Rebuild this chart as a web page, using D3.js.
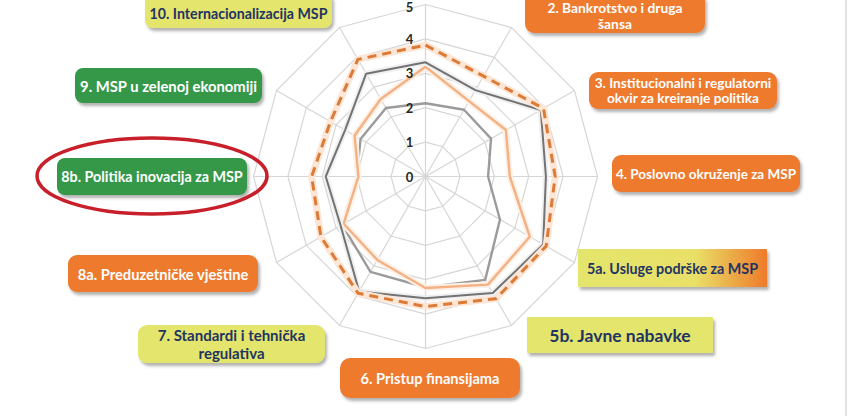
<!DOCTYPE html>
<html>
<head>
<meta charset="utf-8">
<script src="https://cdn.jsdelivr.net/npm/d3@7"></script>
<style>
  html, body { margin: 0; padding: 0; background: #fff; }
  svg { display: block; }
</style>
</head>
<body>
<svg id="chart" width="852" height="416"></svg>
<script>
// 12 SBA dimensions, clockwise from the top (the first one is cut off above the picture)
const categories = [
  "1. Preduzetničko učenje i žensko preduzetništvo",
  "2. Bankrotstvo i druga šansa",
  "3. Institucionalni i regulatorni okvir za kreiranje politika",
  "4. Poslovno okruženje za MSP",
  "5a. Usluge podrške za MSP",
  "5b. Javne nabavke",
  "6. Pristup finansijama",
  "7. Standardi i tehnička regulativa",
  "8a. Preduzetničke vještine",
  "8b. Politika inovacija za MSP",
  "9. MSP u zelenoj ekonomiji",
  "10. Internacionalizacija MSP"
];

const ticks = [0, 1, 2, 3, 4, 5];

// values
const seriesDashed = [3.82, 3.37, 3.96, 3.77, 4.05, 4.10, 3.78, 3.92, 3.51, 3.31, 3.19, 3.93];
const seriesDark   = [3.32, 2.90, 3.87, 3.50, 3.95, 3.91, 3.54, 3.86, 2.85, 2.90, 2.70, 3.45];
const seriesPeach  = [3.19, 2.53, 2.70, 2.45, 3.50, 3.63, 3.24, 2.80, 2.75, 1.95, 2.38, 2.60];
const seriesGrey   = [2.13, 2.24, 2.20, 1.82, 2.50, 3.47, 3.22, 3.20, 2.80, 2.00, 2.18, 2.30];

const svg = d3.select('#chart');
const cx = 425.5, cy = 176.5;

const r = d3.scaleLinear().domain([0, 5]).range([0, 172]);
const angle = d3.scaleLinear().domain([0, categories.length]).range([0, 2 * Math.PI]);

// shadow for the label boxes
const defs = svg.append('defs');
defs.append('filter')
    .attr('id', 'shadow')
    .attr('x', '-10%').attr('y', '-20%')
    .attr('width', '130%').attr('height', '160%')
  .append('feDropShadow')
    .attr('dx', 2).attr('dy', 3)
    .attr('stdDeviation', 1.6)
    .attr('flood-color', '#555')
    .attr('flood-opacity', 0.45);

const grad = defs.append('linearGradient').attr('id', 'yo');
grad.append('stop').attr('offset', '0%').attr('stop-color', '#e4e56c');
grad.append('stop').attr('offset', '62%').attr('stop-color', '#e9e068');
grad.append('stop').attr('offset', '100%').attr('stop-color', '#ee7a2a');

const g = svg.append('g').attr('transform', `translate(${cx},${cy})`);

// grid rings
const ring = d3.lineRadial()
  .angle((d, i) => angle(i))
  .radius(d => r(d))
  .curve(d3.curveLinearClosed);

g.append('g')
  .selectAll('path')
  .data(ticks.slice(1))
  .join('path')
    .attr('d', t => ring(categories.map(() => t)))
    .attr('fill', 'none')
    .attr('stroke', '#d6d6d6')
    .attr('stroke-width', 1.2);

// spokes
g.append('g')
  .selectAll('line')
  .data(categories)
  .join('line')
    .attr('x1', 0).attr('y1', 0)
    .attr('x2', (d, i) => r(5) * Math.sin(angle(i)))
    .attr('y2', (d, i) => -r(5) * Math.cos(angle(i)))
    .attr('stroke', '#d6d6d6')
    .attr('stroke-width', 1.2);

// series
const radarLine = d3.lineRadial()
  .angle((d, i) => angle(i))
  .radius(d => r(d))
  .curve(d3.curveLinearClosed);

const series = [
  { values: seriesGrey,   color: '#9b9b9b', width: 2.4, dash: null,  halo: null },
  { values: seriesPeach,  color: '#f3b184', width: 2.4, dash: null,  halo: '#fdf0e6' },
  { values: seriesDark,   color: '#737373', width: 2,   dash: null,  halo: '#f0f0f0' },
  { values: seriesDashed, color: '#dc7a36', width: 3,   dash: '9,6', halo: '#fde6d5' }
];

series.forEach(s => {
  if (s.halo) {
    g.append('path')
      .attr('d', radarLine(s.values))
      .attr('fill', 'none')
      .attr('stroke', s.halo)
      .attr('stroke-width', s.width + 4)
      .attr('stroke-linejoin', 'round');
  }
  g.append('path')
    .attr('d', radarLine(s.values))
    .attr('fill', 'none')
    .attr('stroke', s.color)
    .attr('stroke-width', s.width)
    .attr('stroke-dasharray', s.dash)
    .attr('stroke-linejoin', 'round');
});

// tick labels
g.append('g')
  .selectAll('text')
  .data(ticks)
  .join('text')
    .attr('x', -16)
    .attr('y', t => Math.max(-r(t) + 5, -cy + 12))
    .attr('text-anchor', 'middle')
    .attr('font-family', 'Lato, "Open Sans", sans-serif')
    .attr('font-weight', 700)
    .attr('font-size', 13)
    .attr('fill', '#262626')
    .text(t => t);

// label boxes around the chart (category index, layout, colour)
const orange = '#ee7a2d', green = '#34984a', yellow = '#e4e56c';
const boxes = [
  { cat: 11, lines: ['10. Internacionalizacija MSP'], x: 145, y: -8, w: 187, h: 36, fill: yellow, ink: '#1f3463', rx: 8, fs: 14.2 },
  { cat: 1,  lines: ['2. Bankrotstvo i druga', 'šansa'], x: 525, y: -8, w: 180, h: 41, fill: orange, ink: '#fff', rx: 9, fs: 13.8 },
  { cat: 2,  lines: ['3.  Institucionalni i regulatorni', 'okvir za kreiranje politika'], x: 589, y: 72, w: 188, h: 37, fill: orange, ink: '#fff', rx: 9, fs: 13.6 },
  { cat: 3,  lines: ['4. Poslovno okruženje za MSP'], x: 612, y: 155, w: 188, h: 37, fill: orange, ink: '#fff', rx: 9, fs: 13.5 },
  { cat: 4,  lines: ['5a. Usluge podrške za MSP'], x: 578, y: 249, w: 189, h: 38, fill: 'url(#yo)', ink: '#1f3463', rx: 1, fs: 14.3 },
  { cat: 5,  lines: ['5b. Javne nabavke'], x: 527, y: 317, w: 186, h: 36, fill: yellow, ink: '#1f3463', rx: 1, fs: 17.5 },
  { cat: 6,  lines: ['6. Pristup finansijama'], x: 340, y: 358, w: 180, h: 40, fill: orange, ink: '#fff', rx: 10, fs: 14.6 },
  { cat: 7,  lines: ['7. Standardi i tehnička', 'regulativa'], x: 138, y: 325, w: 187, h: 38, fill: yellow, ink: '#1f3463', rx: 9, fs: 15 },
  { cat: 8,  lines: ['8a. Preduzetničke vještine'], x: 68, y: 255, w: 190, h: 37, fill: orange, ink: '#fff', rx: 9, fs: 14.7 },
  { cat: 9,  lines: ['8b. Politika inovacija za MSP'], x: 57, y: 158, w: 190, h: 37, fill: green, ink: '#fff', rx: 8, fs: 14.3 },
  { cat: 10, lines: ['9. MSP u zelenoj ekonomiji'], x: 75, y: 68, w: 187, h: 35, fill: green, ink: '#fff', rx: 8, fs: 14.8 }
];

const boxG = svg.append('g')
  .selectAll('g')
  .data(boxes)
  .join('g')
    .attr('transform', d => `translate(${d.x},${d.y})`);

boxG.append('rect')
  .attr('width', d => d.w)
  .attr('height', d => d.h)
  .attr('rx', d => d.rx)
  .attr('fill', d => d.fill)
  .attr('filter', 'url(#shadow)');

boxG.each(function(d) {
  const n = d.lines.length;
  const lh = d.fs * 1.15;
  // boxes pushed above the top edge keep their text in the visible part
  const shift = d.y < 0 ? 3 : 0;
  d3.select(this).selectAll('text')
    .data(d.lines)
    .join('text')
      .attr('x', d.w / 2)
      .attr('y', (l, i) => d.h / 2 + (i - (n - 1) / 2) * lh + shift)
      .attr('text-anchor', 'middle')
      .attr('dominant-baseline', 'central')
      .attr('font-family', 'Lato, "Open Sans", sans-serif')
      .attr('font-weight', 700)
      .attr('font-size', d.fs)
      .attr('fill', d.ink)
      .text(l => l);
});

// red highlight around 8b
svg.append('ellipse')
  .attr('cx', 152).attr('cy', 176)
  .attr('rx', 115).attr('ry', 38)
  .attr('fill', 'none')
  .attr('stroke', '#c8202b')
  .attr('stroke-width', 3.5);

// frame edge of the screenshot
svg.append('line')
  .attr('x1', 846).attr('x2', 846)
  .attr('y1', 0).attr('y2', 416)
  .attr('stroke', '#e2e2e2')
  .attr('stroke-width', 2);
</script>
</body>
</html>
